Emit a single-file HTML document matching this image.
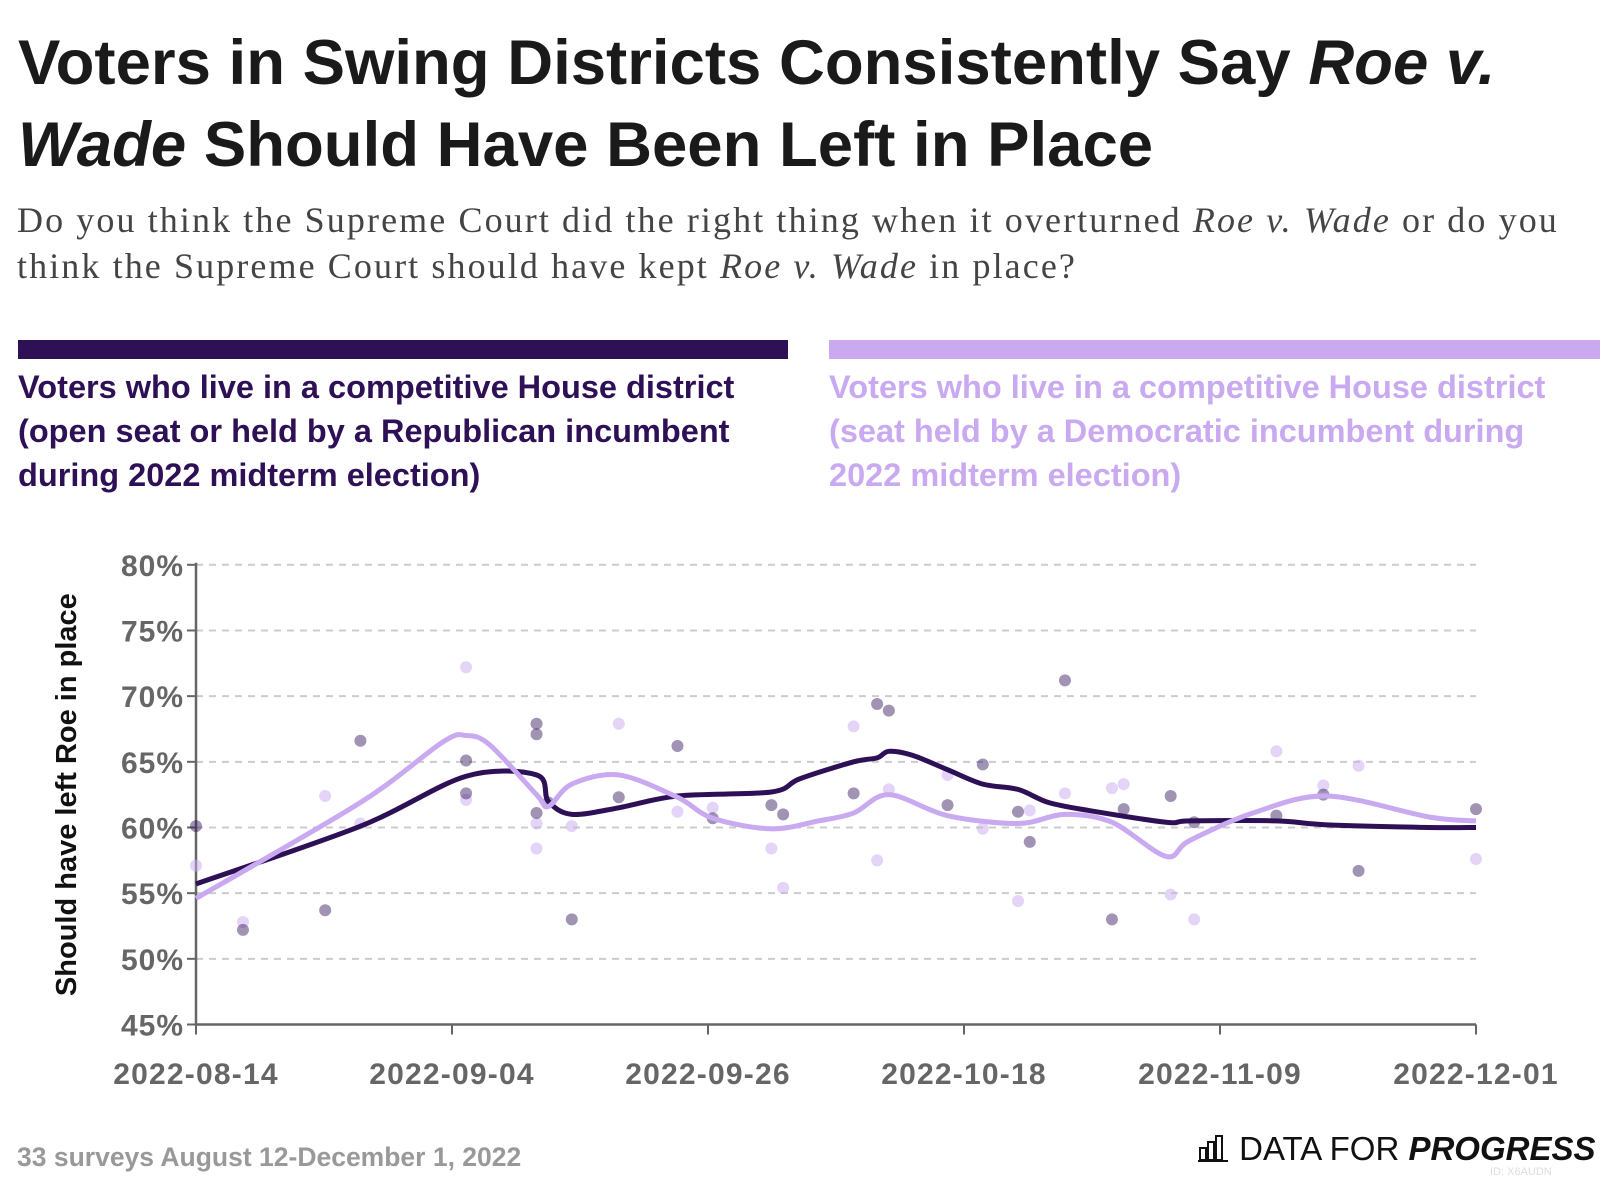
<!DOCTYPE html>
<html><head><meta charset="utf-8">
<style>
html,body{margin:0;padding:0;background:#fff;}
body{width:1616px;height:1184px;position:relative;overflow:hidden;font-family:"Liberation Sans",sans-serif;}
.t{position:absolute;white-space:nowrap;}
</style></head>
<body>
<div class="t" style="left:18px;top:22px;font-size:63.5px;font-weight:bold;color:#1a1a1a;line-height:82px;letter-spacing:0px;">Voters in Swing Districts Consistently Say <i>Roe v.</i><br><i>Wade</i> Should Have Been Left in Place</div>
<div class="t" style="left:17px;top:197px;font-family:'Liberation Serif',serif;font-size:36px;letter-spacing:2.1px;color:#444;line-height:46px;">Do you think the Supreme Court did the right thing when it overturned <i>Roe v. Wade</i> or do you<br>think the Supreme Court should have kept <i>Roe v. Wade</i> in place?</div>
<div style="position:absolute;left:18px;top:340px;width:770px;height:19px;background:#2e1056;"></div>
<div style="position:absolute;left:829px;top:340px;width:771px;height:19px;background:#c9a9f0;"></div>
<div class="t" style="left:18px;top:365px;font-size:32.5px;font-weight:bold;color:#2e1056;line-height:44px;">Voters who live in a competitive House district<br>(open seat or held by a Republican incumbent<br>during 2022 midterm election)</div>
<div class="t" style="left:829px;top:365px;font-size:32.5px;font-weight:bold;color:#c9a9f0;line-height:44px;">Voters who live in a competitive House district<br>(seat held by a Democratic incumbent during<br>2022 midterm election)</div>
<svg id="chart" width="1616" height="1184" style="position:absolute;left:0;top:0;"></svg>
<div class="t" style="left:17px;top:1142px;font-size:26.5px;font-weight:bold;color:#999;">33 surveys August 12-December 1, 2022</div>
<div class="t" style="left:1198px;top:1130px;font-size:33px;color:#111;">
<svg width="32" height="28" style="vertical-align:-2px"><g fill="none" stroke="#111" stroke-width="2"><rect x="2" y="14" width="6" height="12"/><rect x="10" y="8" width="6" height="18"/><rect x="18" y="2" width="6" height="24"/><line x1="0" y1="27" x2="30" y2="27"/></g></svg>
DATA FOR <b><i>PROGRESS</i></b></div>
<div class="t" style="left:1490px;top:1166px;font-size:11px;color:#ddd;">ID: X6AUDN</div>
<script>
const xTickLabels=["2022-08-14","2022-09-04","2022-09-26","2022-10-18","2022-11-09","2022-12-01"];
const yTicks=[45,50,55,60,65,70,75,80];
const darkDays=[0,4,11,14,23,23,29,29,29,30,32,36,41,44,49,50,56,58,59,64,67,70,71,74,78,79,83,85,92,96,99,109];
const darkVals=[60.1,52.2,53.7,66.6,65.1,62.6,67.9,67.1,61.1,61.9,53.0,62.3,66.2,60.7,61.7,61.0,62.6,69.4,68.9,61.7,64.8,61.2,58.9,71.2,53.0,61.4,62.4,60.4,60.9,62.5,56.7,61.4];
const lightDays=[0,4,11,14,23,23,29,29,32,36,41,44,49,50,56,58,59,64,67,70,71,74,78,79,83,85,92,96,99,109];
const lightVals=[57.1,52.8,62.4,60.3,72.2,62.1,60.3,58.4,60.1,67.9,61.2,61.5,58.4,55.4,67.7,57.5,62.9,64.0,59.9,54.4,61.3,62.6,63.0,63.3,54.9,53.0,65.8,63.2,64.7,57.6];
const darkTrendDays=[0,14,23,29,30,32,36,41,49,51.4,56,58,59,61,64,67,70,72.6,76,82.6,84.6,92,96.3,105,109];
const darkTrendVals=[55.7,60.1,63.9,64.0,62.0,61.0,61.5,62.4,62.7,63.7,65.0,65.3,65.8,65.5,64.4,63.3,62.9,61.9,61.3,60.4,60.5,60.5,60.2,60.0,60.0];
const lightTrendDays=[0,14,21,23,25,29,30,32,36,41,44,49,53,56,59,64,70,74,78,82.6,84.6,90,96.3,105,109];
const lightTrendVals=[54.6,61.9,66.5,67.0,66.3,62.5,61.6,63.3,64.0,62.3,60.7,59.9,60.5,61.1,62.5,60.9,60.3,61.0,60.4,57.8,59.0,61.1,62.4,60.8,60.5];
const X0=196,X1=1476,Y0=1024.5,Y1=564.8,DMAX=109,VMIN=45,VMAX=80;
const xs=d=>X0+(X1-X0)*d/DMAX;
const ys=v=>Y0-(Y0-Y1)*(v-VMIN)/(VMAX-VMIN);
const svg=document.getElementById('chart');
const NS='http://www.w3.org/2000/svg';
function mk(tag,attrs){const e=document.createElementNS(NS,tag);for(const k in attrs)e.setAttribute(k,attrs[k]);svg.appendChild(e);return e;}
yTicks.forEach(v=>{
  const y=ys(v);
  if(v>VMIN){const g=mk('line',{x1:X0,x2:X1,y1:y,y2:y,stroke:'#ccc','stroke-width':2,'stroke-dasharray':'7,6'});
  
  }
  const tk=mk('line',{x1:X0-9,x2:X0,y1:y,y2:y,stroke:'#666','stroke-width':2});
  
  
  const t=mk('text',{x:X0-12,y:y+11,'text-anchor':'end','font-size':30,'font-weight':'bold','letter-spacing':1,fill:'#666','font-family':'Liberation Sans, sans-serif'});
  t.textContent=v+'%';
  
  
});
xTickLabels.forEach((l,i)=>{
  const x=xs(i*DMAX/(xTickLabels.length-1));
  const tk=mk('line',{x1:x,x2:x,y1:Y0,y2:Y0+10,stroke:'#666','stroke-width':2});
  
  
  const t=mk('text',{x:x,y:1084,'text-anchor':'middle','font-size':30,'font-weight':'bold','letter-spacing':1.2,fill:'#666','font-family':'Liberation Sans, sans-serif'});
  t.textContent=l;
  
  
});
const ax=mk('path',{d:`M${X0},${Y1-2}V${Y0}H${X1}`,fill:'none',stroke:'#666','stroke-width':2.5});


const yt=mk('text',{x:0,y:0,transform:`translate(76,${(Y0+Y1)/2}) rotate(-90)`,'text-anchor':'middle','font-size':29,'font-weight':'bold',fill:'#111','font-family':'Liberation Sans, sans-serif'});
yt.textContent='Should have left Roe in place';


lightDays.forEach((d,i)=>{
  const c=mk('circle',{cx:xs(d),cy:ys(lightVals[i]),r:6,fill:'#c9a9f0','fill-opacity':0.5});
  
  
});
darkDays.forEach((d,i)=>{
  const c=mk('circle',{cx:xs(d),cy:ys(darkVals[i]),r:6,fill:'#2e1056','fill-opacity':0.45});
  
  
});
function smooth(days,vals){
  const p=days.map((d,i)=>[xs(d),ys(vals[i])]);
  let s=`M${p[0][0]},${p[0][1]}`;
  for(let i=0;i<p.length-1;i++){
    const a=p[i-1]||p[i],b=p[i],c=p[i+1],e=p[i+2]||c;
    const t=0.16;
    s+=`C${b[0]+(c[0]-a[0])*t},${b[1]+(c[1]-a[1])*t} ${c[0]-(e[0]-b[0])*t},${c[1]-(e[1]-b[1])*t} ${c[0]},${c[1]}`;
  }
  return s;
}
const dl=mk('path',{d:smooth(darkTrendDays,darkTrendVals),fill:'none',stroke:'#2e1056','stroke-width':5,'stroke-linejoin':'round'});


const ll=mk('path',{d:smooth(lightTrendDays,lightTrendVals),fill:'none',stroke:'#c9a9f0','stroke-width':5,'stroke-linejoin':'round'});


</script>
</body></html>
